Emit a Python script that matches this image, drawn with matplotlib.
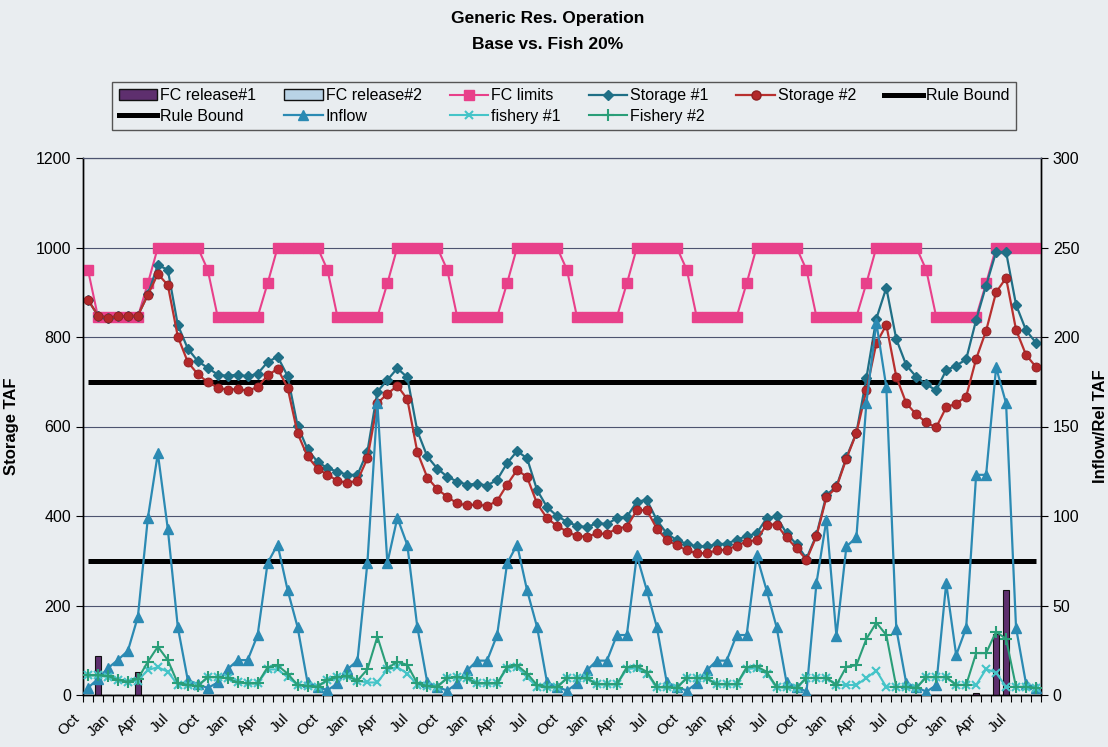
import numpy as np
import matplotlib.pyplot as plt
import matplotlib.transforms as mtransforms
from matplotlib.lines import Line2D
from matplotlib.patches import Patch

plt.rcParams['font.family'] = ['Liberation Sans', 'DejaVu Sans']

# -------- data: 96 months, Oct of year 1 .. Sep of year 8 -------- #
tick_labels = ["Oct", "Jan", "Apr", "Jul"] * 8

# FC releases (right axis)
fc_release_1 = [0, 22, 0, 0, 0, 13, 0, 0, 0, 0, 0, 0,
                0, 0, 0, 0, 0, 0, 0, 0, 0, 0, 0, 0,
                0, 0, 0, 0, 0, 0, 0, 0, 0, 0, 0, 0,
                0, 0, 0, 0, 0, 0, 0, 0, 0, 0, 0, 0,
                0, 0, 0, 0, 0, 0, 0, 0, 0, 0, 0, 0,
                0, 0, 0, 0, 0, 0, 0, 0, 0, 0, 0, 0,
                0, 0, 0, 0, 0, 0, 0, 0, 0, 0, 0, 0,
                0, 0, 0, 0, 0, 1.3, 0, 34, 58.5, 0, 0, 0]
fc_release_2 = [0] * 96

# left axis series
fc_limits = [950, 845, 845, 845, 845, 845, 920, 1000, 1000, 1000, 1000, 1000,
             950, 845, 845, 845, 845, 845, 920, 1000, 1000, 1000, 1000, 1000,
             950, 845, 845, 845, 845, 845, 920, 1000, 1000, 1000, 1000, 1000,
             950, 845, 845, 845, 845, 845, 920, 1000, 1000, 1000, 1000, 1000,
             950, 845, 845, 845, 845, 845, 920, 1000, 1000, 1000, 1000, 1000,
             950, 845, 845, 845, 845, 845, 920, 1000, 1000, 1000, 1000, 1000,
             950, 845, 845, 845, 845, 845, 920, 1000, 1000, 1000, 1000, 1000,
             950, 845, 845, 845, 845, 845, 920, 1000, 1000, 1000, 1000, 1000]

storage_1 = [883, 848, 843, 846, 846, 848, 895, 961, 950, 827, 774, 746,
             731, 716, 713, 716, 712, 718, 744, 756, 713, 602, 549, 521,
             507, 499, 492, 492, 544, 678, 704, 730, 710, 590, 533, 506,
             488, 477, 470, 472, 468, 481, 518, 545, 529, 458, 420, 400,
             387, 378, 375, 384, 382, 395, 398, 432, 436, 391, 361, 346,
             338, 332, 332, 337, 338, 347, 355, 361, 395, 399, 361, 337,
             305, 358, 447, 466, 531, 586, 708, 841, 910, 795, 737, 711,
             694, 681, 726, 736, 750, 838, 915, 990, 990, 872, 815, 787]

storage_2 = [883, 848, 843, 846, 846, 848, 894, 941, 916, 801, 744, 717,
             699, 687, 682, 684, 680, 688, 714, 729, 687, 585, 533, 506,
             492, 479, 474, 479, 529, 652, 673, 691, 661, 543, 486, 460,
             443, 428, 424, 426, 422, 434, 470, 503, 487, 428, 395, 378,
             365, 355, 354, 361, 360, 372, 376, 413, 413, 372, 346, 335,
             323, 317, 317, 323, 325, 333, 343, 346, 381, 381, 352, 328,
             302, 355, 442, 464, 528, 585, 681, 786, 827, 711, 652, 627,
             609, 598, 643, 651, 667, 751, 814, 900, 932, 816, 760, 733]

rule_bound_hi = 700
rule_bound_lo = 300

# right axis series
inflow = [4, 9, 15, 19.6, 24.7, 43.7, 98.9, 135, 92.7, 38, 8.4, 6,
          3.9, 7, 14.5, 19.5, 19.5, 33.5, 73.8, 84, 58.7, 38, 7, 4.7,
          2.6, 6.5, 14.5, 19, 73.8, 163, 73.8, 99, 83.8, 38, 7, 4.7,
          2.4, 6.5, 13.8, 19.2, 19.2, 33.5, 73.5, 84, 58.5, 38, 7, 4.7,
          2.4, 6.5, 13.8, 19.2, 19.2, 33.5, 33.5, 78, 58.5, 38, 7, 4.7,
          2.4, 6.5, 13.8, 19.2, 19.2, 33.5, 33.5, 78, 58.5, 38, 7, 4.7,
          1.8, 62.5, 98, 33, 83, 88, 163, 208, 172, 37, 6.5, 4.6,
          1.8, 5.5, 62.5, 22.3, 37.5, 123, 123, 183, 163, 37.5, 6.3, 4]

fishery_1 = [11, 11, 10, 8.4, 7.4, 8, 14, 15.5, 13, 5.6, 5.6, 5,
             10, 10, 9.3, 7, 6.5, 6.5, 14.3, 14.3, 10, 5.6, 5, 4.7,
             8.4, 10, 10.5, 8, 7, 7, 14.3, 15.5, 12, 5.6, 5, 4.7,
             9.5, 10, 9.3, 6.5, 6.5, 6.5, 15, 15.8, 10, 4.5, 4.3, 4.3,
             9.5, 9.5, 9.3, 6, 6, 6, 14.5, 15, 12, 4.3, 4.3, 4,
             9.5, 9.5, 9.3, 6, 6, 6, 14.5, 15, 12, 4.3, 4.3, 4,
             9.5, 9.5, 9.5, 5.6, 5.6, 5.6, 9.5, 13.6, 4.5, 4.5, 4.5, 4,
             10, 10, 10, 5.6, 5.6, 5.6, 14.5, 12.5, 4.5, 4.5, 4.5, 4]

fishery_2 = [11, 11, 10.6, 8.4, 7.4, 9, 18.6, 27, 19.5, 6.5, 5.6, 5,
             10, 10, 9.3, 7, 6.5, 6.5, 15.5, 16.5, 12, 5.6, 5, 4.7,
             8.4, 10, 10.5, 8, 14.3, 32.6, 14.9, 18.6, 16.8, 6.5, 5, 4.7,
             9.5, 10, 9.3, 6.5, 6.5, 6.5, 15.8, 16.6, 12, 5.6, 4.3, 4.3,
             9.5, 9.5, 9.3, 6, 6, 6, 15.5, 16, 13, 4.5, 4.3, 4,
             9.5, 9.5, 9.3, 6, 6, 6, 15.5, 16, 13, 4.5, 4.3, 4,
             9.5, 9.5, 9.5, 5.6, 15.8, 16.6, 31.3, 40.4, 33.5, 4.5, 4.5, 4,
             10, 10, 10, 5.6, 5.6, 23.4, 23.4, 35.4, 31.3, 4.5, 4.5, 4]

# -------- colours -------- #
BG = '#e9edf0'
C_FC1 = '#5e2f6e'
C_FC2 = '#b9d3e6'
C_LIM = '#e8408a'
C_ST1 = '#1f6f86'
C_ST2 = '#b8302f'
C_INF = '#2b8ab3'
C_FI1 = '#45c4c8'
C_FI2 = '#2a9e78'

fig = plt.figure(figsize=(11.08, 7.47), dpi=100, facecolor=BG)
ax = fig.add_axes([83 / 1108, 1 - 695 / 747, (1041 - 83) / 1108, (695 - 158) / 747])
ax.set_facecolor(BG)
ax2 = ax.twinx()

n = len(storage_1)
x = np.arange(n) + 0.5

# bars (right axis)
ax2.bar(x, fc_release_1, width=0.6, color=C_FC1, edgecolor='#111111', lw=0.8, zorder=2)
ax2.bar(x, fc_release_2, width=0.6, color=C_FC2, edgecolor='#111111', lw=0.8, zorder=2)

# left axis lines
ax.plot(x, [rule_bound_hi] * n, color='black', lw=3.6, solid_capstyle='butt', zorder=2)
ax.plot(x, [rule_bound_lo] * n, color='black', lw=3.6, solid_capstyle='butt', zorder=2)
ax.plot(x, fc_limits, color=C_LIM, lw=1.5, marker='s', ms=6.5, zorder=3)
ax.plot(x, storage_1, color=C_ST1, lw=1.6, marker='D', ms=5.2, zorder=4)
ax.plot(x, storage_2, color=C_ST2, lw=1.6, marker='o', ms=6.5,
        mfc='#b3282a', mec='#8e1f22', mew=0.6, zorder=5)

# right axis lines
ax2.plot(x, inflow, color=C_INF, lw=1.6, marker='^', ms=6.5, zorder=4)
ax2.plot(x, fishery_1, color=C_FI1, lw=1.5, marker='x', ms=6, mew=1.5, zorder=5)
ax2.plot(x, fishery_2, color=C_FI2, lw=1.5, marker='+', ms=8, mew=1.5, zorder=6)

# -------- axes -------- #
ax.set_xlim(0, n)
ax.set_ylim(0, 1200)
ax2.set_ylim(0, 300)
ax.set_yticks(np.arange(0, 1201, 200))
ax2.set_yticks(np.arange(0, 301, 50))
ax.yaxis.grid(True, color='#4d5470', lw=0.8)
ax.set_axisbelow(True)

ax.set_xticks(np.arange(0, n + 1), minor=True)
ax.set_xticks(np.arange(0, n, 3) + 0.5)
ax.set_xticklabels(tick_labels, rotation=45, ha='right', va='top', fontsize=11)
ax.tick_params(axis='x', which='major', length=0, pad=12)
ax.tick_params(axis='x', which='minor', length=5, width=0.8, direction='out')
offset = mtransforms.ScaledTranslation(-6 / 100, 0, fig.dpi_scale_trans)
for lab in ax.get_xticklabels():
    lab.set_transform(lab.get_transform() + offset)

ax.tick_params(axis='y', labelsize=11.5, length=5, width=0.8)
ax2.tick_params(axis='y', labelsize=11.5, length=5, width=0.8)

for a in (ax, ax2):
    a.spines['top'].set_color('#4d5470')
    a.spines['top'].set_linewidth(0.8)
    a.spines['left'].set_linewidth(1.0)
    a.spines['right'].set_linewidth(1.0)
    a.spines['bottom'].set_linewidth(1.0)

ax.set_ylabel('Storage TAF', fontsize=12, fontweight='bold', labelpad=12)
ax2.set_ylabel('Inflow/Rel TAF', fontsize=12, fontweight='bold', labelpad=10)

fig.text(548 / 1108, 1 - 11 / 747, 'Generic Res. Operation\nBase vs. Fish 20%',
         ha='center', va='top', fontsize=12.5, fontweight='bold', linespacing=1.9)

# -------- legend -------- #
h_fc1 = Patch(facecolor=C_FC1, edgecolor='#111111', label='FC release#1')
h_fc2 = Patch(facecolor=C_FC2, edgecolor='#111111', label='FC release#2')
h_lim = Line2D([], [], color=C_LIM, lw=1.5, marker='s', ms=6.5, label='FC limits')
h_st1 = Line2D([], [], color=C_ST1, lw=1.6, marker='D', ms=5.2, label='Storage #1')
h_st2 = Line2D([], [], color=C_ST2, lw=1.6, marker='o', ms=6.5, mfc='#b3282a',
               mec='#8e1f22', label='Storage #2')
h_rb1 = Line2D([], [], color='black', lw=3.6, label='Rule Bound')
h_rb2 = Line2D([], [], color='black', lw=3.6, label='Rule Bound')
h_inf = Line2D([], [], color=C_INF, lw=1.6, marker='^', ms=6.5, label='Inflow')
h_fi1 = Line2D([], [], color=C_FI1, lw=1.5, marker='x', ms=6, mew=1.5, label='fishery #1')
h_fi2 = Line2D([], [], color=C_FI2, lw=1.5, marker='+', ms=8, mew=1.5, label='Fishery #2')

handles = [h_fc1, h_rb2, h_fc2, h_inf, h_lim, h_fi1, h_st1, h_fi2, h_st2, h_rb1]
leg = fig.legend(handles=handles, loc='center', bbox_to_anchor=(564 / 1108, 1 - 106 / 747),
                 ncol=6, fontsize=11.5, frameon=True, fancybox=False, edgecolor='#555555',
                 facecolor=BG, framealpha=1, handlelength=2.4, handletextpad=0.2,
                 columnspacing=1.75, borderpad=0.4, labelspacing=0.35)
leg.get_frame().set_linewidth(1.0)

fig.savefig('out.png', dpi=100, facecolor=BG)
